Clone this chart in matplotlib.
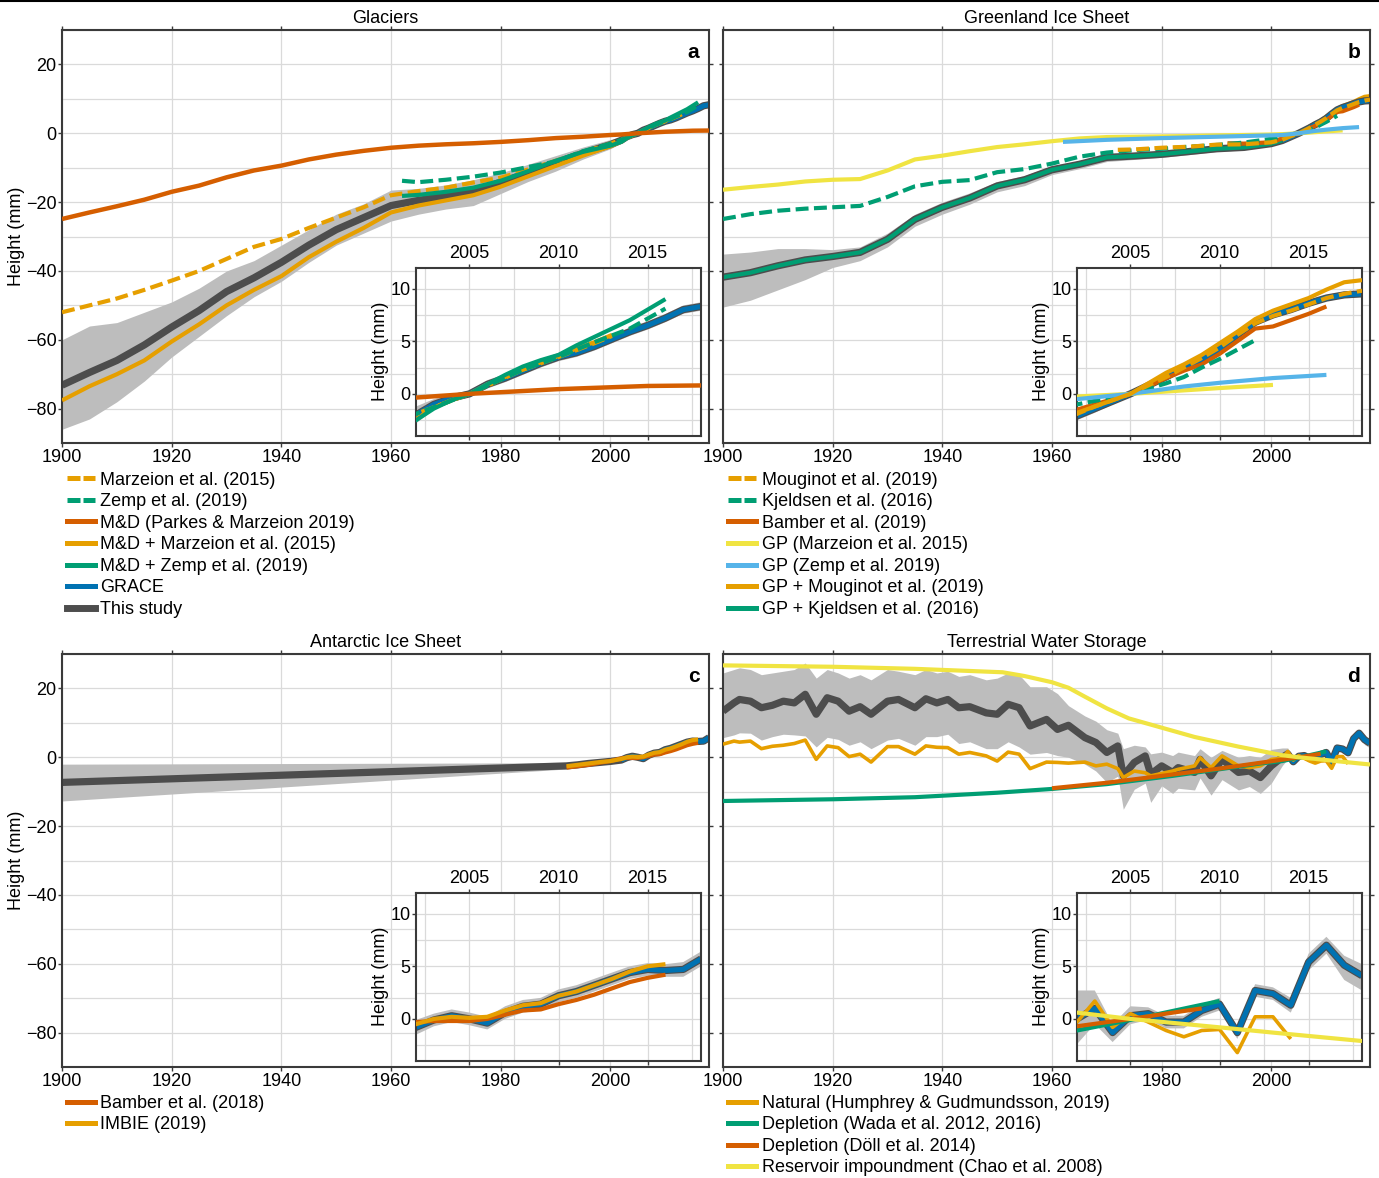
import matplotlib.pyplot as plt
from matplotlib.lines import Line2D
from matplotlib.ticker import MultipleLocator

plt.rcParams['font.family'] = ['Liberation Sans', 'DejaVu Sans']
plt.rcParams['font.size'] = 13

ORANGE = '#E69F00'
TEAL = '#009E73'
RED = '#D55E00'
YELLOW = '#F0E442'
SKY = '#56B4E9'
BLUE = '#0072B2'
DARK = '#4D4D4D'
BAND = '#BDBDBD'
DASH = (0, (3.1, 1.3))
LEG_DASH = (0, (2.6, 0.6))

grace_years = list(range(2002, 2019))
step5 = list(range(1900, 2001, 5))

# ---------------- Glaciers ----------------
gla_years = step5 + grace_years
gla_study = [-73.2, -69.5, -66.0, -61.5, -56.3, -51.5, -46.0, -42.0, -37.5, -32.5, -28.0,
             -24.5, -21.0, -19.5, -18.2, -16.8, -14.2, -11.5, -8.6, -5.8, -3.3,
             -2.0, -1.0, -0.4, 0.0, 0.9, 1.5, 2.2, 2.9, 3.5, 3.9, 4.5, 5.2, 5.9, 6.5, 7.2, 8.0, 8.3]
gla_lo = [-86, -83, -78, -72, -65, -59, -53, -47.5, -43, -37.5, -32.5, -29, -25.5, -23.5,
          -22, -21, -17.5, -14, -11, -7.5, -4.5,
          -2.8, -1.5, -0.8, -0.3, 0.5, 1.1, 1.8, 2.5, 3.1, 3.5, 4.1, 4.8, 5.5, 6.1, 6.8, 7.6, 7.9]
gla_hi = [-60, -56, -55, -52, -49, -45, -40, -37, -32.5, -28, -23.5, -20.5, -16.5, -16,
          -15, -13.5, -11.5, -9, -6.5, -4, -1.8,
          -1.2, -0.5, 0.0, 0.3, 1.3, 1.9, 2.6, 3.3, 3.9, 4.3, 4.9, 5.6, 6.3, 6.9, 7.6, 8.4, 8.7]
gla_grace = [-2.0, -1.0, -0.4, 0.0, 0.9, 1.5, 2.2, 2.9, 3.5, 3.9, 4.5, 5.2, 5.9, 6.5, 7.2, 8.0, 8.3]

gla_md_years = step5 + [2002, 2005, 2010, 2015, 2018]
gla_md = [-24.9, -23.0, -21.2, -19.3, -17.0, -15.2, -12.8, -10.8, -9.4, -7.6, -6.2, -5.1,
          -4.2, -3.6, -3.2, -2.9, -2.5, -2.0, -1.4, -1.0, -0.5, -0.35, 0.0, 0.45, 0.75, 0.8]

gla_marz_years = step5 + [2002, 2005, 2008, 2010, 2012, 2013]
gla_marz = [-52, -50, -48, -45.5, -42.8, -40, -36.5, -33, -30.7, -27.5, -24.5, -21.5, -18,
            -16.8, -15.8, -14.3, -12.9, -10.5, -8, -5.5, -3.0, -1.9, 0.0, 2.3, 3.5, 4.8, 5.5]

gla_md_marz_years = step5 + list(range(2002, 2014))
gla_md_marz = [-77.6, -73.5, -70, -66, -60.5, -55.5, -50, -45.5, -41.5, -36, -31.5, -27.5,
               -23, -21, -19.5, -18, -15.5, -12.5, -9.5, -6.5, -3.8,
               -2.4, -1.3, -0.6, 0.0, 0.9, 1.6, 2.3, 3.0, 3.6, 4.3, 4.9, 5.6]

gla_zemp_years = [1962, 1965, 1970, 1975, 1980, 1985, 1990, 1995, 2000, 2002, 2005, 2008,
                  2010, 2012, 2014, 2016]
gla_zemp = [-13.8, -14.2, -13.5, -12.6, -11.4, -9.8, -8.2, -5.2, -3.0, -1.9, 0.0, 2.3,
            3.5, 4.9, 6.2, 8.1]

gla_md_zemp_years = [1962, 1965, 1970, 1975, 1980, 1985, 1990, 1995, 2000] + list(range(2002, 2017))
gla_md_zemp = [-18.2, -17.9, -17.0, -15.8, -13.8, -11.0, -8.0, -5.4, -3.6,
               -2.5, -1.4, -0.6, 0.0, 0.9, 1.8, 2.6, 3.2, 3.7, 4.6, 5.4, 6.2, 7.0, 8.0, 9.0]

# ---------------- Greenland ----------------
gre_years = step5 + grace_years
gre_study = [-41.8, -40.5, -38.5, -36.8, -35.8, -34.6, -30.8, -25.0, -21.5, -18.8, -15.3,
             -13.5, -10.6, -9.0, -7.0, -6.6, -6.1, -5.3, -4.5, -4.1, -3.0,
             -2.1, -1.4, -0.7, 0.0, 0.8, 1.6, 2.5, 3.3, 4.3, 5.6, 6.8, 7.5, 8.0, 8.6, 9.1, 9.4, 9.5]
gre_lo = [-50.5, -48.5, -45.5, -42.5, -39.0, -37.0, -33.0, -27.0, -23.5, -20.6, -17.0,
          -15.2, -12.0, -10.3, -8.2, -7.6, -7.0, -6.2, -5.3, -4.8, -3.7,
          -2.5, -1.8, -1.0, -0.3, 0.5, 1.3, 2.2, 3.0, 4.0, 5.3, 6.5, 7.2, 7.7, 8.3, 8.8, 9.1, 9.2]
gre_hi = [-35.1, -34.5, -33.5, -33.5, -33.8, -33.0, -29.0, -23.5, -20.0, -17.3, -14.0,
          -12.3, -9.4, -8.0, -6.1, -5.7, -5.2, -4.5, -3.8, -3.4, -2.4,
          -1.7, -1.0, -0.4, 0.3, 1.1, 1.9, 2.8, 3.6, 4.6, 5.9, 7.1, 7.8, 8.3, 8.9, 9.4, 9.7, 9.8]
gre_grace = [-2.1, -1.4, -0.7, 0.0, 0.8, 1.6, 2.5, 3.3, 4.3, 5.6, 6.8, 7.5, 8.0, 8.6, 9.1, 9.4, 9.5]

gre_gpk_years = step5 + [2002]
gre_gpk = [-41.8, -40.5, -38.5, -36.8, -35.8, -34.6, -30.8, -25.0, -21.5, -18.8, -15.3,
           -13.5, -10.6, -9.0, -7.0, -6.6, -6.1, -5.3, -4.5, -4.1, -3.0, -2.1]

gre_kjel_years = step5 + [2002, 2005, 2007, 2008, 2009, 2010, 2011, 2012]
gre_kjel = [-24.9, -23.5, -22.5, -21.9, -21.5, -21.1, -18.5, -15.4, -14.1, -13.6, -11.3,
            -10.4, -8.8, -6.8, -5.6, -4.9, -4.5, -3.9, -3.4, -2.7, -1.6,
            -1.0, 0.0, 1.0, 1.6, 2.5, 3.3, 4.2, 5.1]

gre_moug_years = [1972, 1975, 1980, 1985, 1990, 1995, 2000] + grace_years
gre_moug = [-4.8, -4.7, -4.2, -3.9, -3.3, -3.2, -2.6,
            -1.9, -1.2, -0.6, 0.0, 0.8, 1.6, 2.5, 3.4, 4.4, 5.6, 6.7, 7.4, 7.9, 8.5, 9.1, 9.5, 9.8]
gre_gpm = [-6.8, -6.5, -6.0, -5.2, -4.4, -4.0, -2.9,
           -1.8, -1.2, -0.6, 0.0, 1.0, 2.0, 2.8, 3.7, 4.8, 5.9, 7.1, 7.9, 8.5, 9.1, 9.9, 10.6, 10.8]

gre_bamber_years = [1992, 1995, 2000] + list(range(2002, 2017))
gre_bamber = [-2.9, -3.0, -2.6, -1.5, -1.0, -0.5, 0.0, 0.7, 1.5, 2.2, 2.8, 3.8, 5.0, 6.2,
              6.4, 7.0, 7.6, 8.3]

gre_gpmarz_years = step5 + [2002, 2005, 2010, 2013]
gre_gpmarz = [-16.4, -15.6, -14.9, -14.0, -13.5, -13.3, -10.8, -7.6, -6.5, -5.2, -4.0, -3.2,
              -2.3, -1.5, -1.1, -1.0, -0.9, -0.8, -0.6, -0.5, -0.35, -0.25, 0.0, 0.55, 0.85]

gre_gpzemp_years = [1962, 1970, 1980, 1990, 2000, 2002, 2005, 2008, 2010, 2013, 2016]
gre_gpzemp = [-2.5, -1.9, -1.4, -1.0, -0.6, -0.5, 0.0, 0.7, 1.05, 1.5, 1.8]

# ---------------- Antarctica ----------------
ais_years = [1900, 1992, 1994, 1996, 1998, 2000] + grace_years
ais_study = [-7.3, -2.5, -2.2, -1.8, -1.5, -1.2,
             -0.8, -0.1, 0.3, 0.0, -0.4, 0.6, 1.2, 1.4, 2.2, 2.6, 3.2, 3.8, 4.4, 4.7, 4.6, 4.7, 5.7]
ais_lo = [-12.7, -3.4, -3.0, -2.6, -2.2, -1.9,
          -1.5, -0.7, -0.3, -0.6, -1.0, 0.0, 0.6, 0.8, 1.6, 2.0, 2.6, 3.2, 3.8, 4.1, 4.0, 4.0, 5.0]
ais_hi = [-2.0, -1.6, -1.4, -1.0, -0.8, -0.5,
          -0.1, 0.5, 0.9, 0.6, 0.2, 1.2, 1.8, 2.0, 2.8, 3.2, 3.8, 4.4, 5.0, 5.3, 5.2, 5.4, 6.4]
ais_grace = [-0.8, -0.1, 0.3, 0.0, -0.4, 0.6, 1.2, 1.4, 2.2, 2.6, 3.2, 3.8, 4.4, 4.7, 4.6, 4.7, 5.7]

ais_rec_years = [1992, 1994, 1996, 1998, 2000] + list(range(2002, 2017))
ais_imbie = [-2.6, -2.2, -1.8, -1.4, -1.1, -0.5, 0.0, 0.2, 0.1, 0.2, 0.8, 1.3, 1.5, 2.2,
             2.6, 3.2, 3.8, 4.5, 5.0, 5.2]
ais_bamber = [-3.0, -2.6, -2.2, -1.6, -1.1, -0.3, -0.2, -0.2, -0.2, 0.0, 0.4, 0.8, 0.9, 1.4,
              1.8, 2.3, 2.9, 3.5, 3.9, 4.2]

# ---------------- Terrestrial water storage ----------------
tws_main_years = [1900, 1902, 1903, 1905, 1907, 1909, 1911, 1913, 1915, 1917,
                  1919, 1921, 1923, 1925, 1927, 1930, 1932, 1935, 1937, 1939,
                  1941, 1943, 1945, 1948, 1950, 1952, 1954, 1956, 1959, 1961,
                  1963, 1966, 1968, 1970, 1972, 1973, 1975, 1977, 1978, 1980,
                  1982, 1983, 1986, 1987, 1989, 1991, 1994, 1996, 1998, 2000]
tws_years = tws_main_years + grace_years
tws_study = [13.4, 15.8, 16.8, 16.3, 14.4, 15.1, 16.3, 15.8, 18.3, 12.5,
             17.3, 16.3, 13.4, 14.7, 12.5, 16.3, 16.8, 14.4, 17.0, 15.8,
             16.8, 14.4, 14.7, 12.9, 12.5, 15.4, 14.4, 9.1, 11.0, 8.1,
             9.3, 5.7, 4.3, 1.4, 3.3, -5.4, -1.5, 0.4, -4.9, -2.5,
             -4.4, -3.0, -4.4, -0.6, -5.4, -0.6, -4.4, -4.0, -5.9, -2.5,
             0.0, 1.0, -1.3, 0.3, 0.5, -0.3, -0.3, 0.8, 1.4, -1.3, 2.7, 2.4, 1.3, 5.4, 7.0, 5.1, 4.1]
tws_lo = [5.7, 6.5, 7.1, 7.0, 5.0, 6.0, 6.7, 6.5, 6.2, 3.0,
          5.8, 5.2, 3.5, 4.5, 2.5, 5.0, 5.5, 3.5, 6.0, 6.0,
          6.7, 4.0, 4.5, 2.5, 2.5, 4.5, 3.0, 0.9, 1.4, 0.5,
          0.0, -2.0, -4.0, -7.3, -5.5, -15.1, -9.3, -7.5, -13.1, -8.3,
          -10.5, -9.0, -9.5, -6.0, -11.0, -6.5, -9.5, -8.5, -10.5, -7.5,
          -2.4, -0.5, -2.2, -0.5, -0.1, -0.9, -0.9, 0.2, 0.8, -1.9, 2.1, 1.8, 0.6, 4.6, 6.2, 3.7, 2.7]
tws_hi = [24.5, 25.5, 26.0, 25.5, 24.0, 24.5, 25.0, 25.5, 27.4, 23.0,
          25.5, 24.5, 23.0, 24.0, 22.5, 25.5, 25.0, 24.0, 25.5, 24.5,
          25.0, 23.5, 24.0, 22.5, 23.0, 24.5, 24.0, 20.5, 20.5, 18.5,
          15.0, 12.0, 10.5, 8.0, 7.0, 2.5, 3.5, 3.0, 1.0, 1.5,
          0.5, 1.5, 0.5, 2.5, 0.0, 2.0, 0.0, 0.5, 0.0, 2.3,
          2.7, 2.7, -0.5, 1.2, 1.1, 0.3, 0.3, 1.4, 2.0, -0.7, 3.3, 3.0, 2.0, 6.2, 7.8, 6.0, 5.2]
tws_grace = [0.0, 1.0, -1.3, 0.3, 0.5, -0.3, -0.3, 0.8, 1.4, -1.3, 2.7, 2.4, 1.3, 5.4, 7.0, 5.1, 4.1]

tws_nat_years = tws_main_years + list(range(2002, 2015))
tws_nat = [3.8, 4.7, 4.4, 4.7, 2.5, 3.2, 3.5, 4.0, 5.0, -0.6,
           3.3, 2.8, 0.2, 0.9, -1.4, 3.1, 3.1, 0.9, 3.3, 2.9,
           2.8, 0.9, 1.4, 0.4, -1.1, 1.5, 0.9, -3.3, -1.4, -1.5,
           -1.7, -1.4, -2.5, -2.0, -3.3, -5.9, -4.0, -4.5, -5.4, -4.7,
           -4.0, -3.5, -2.5, -0.1, -3.0, 0.4, -2.5, -3.0, -2.5, -0.6,
           -0.3, 1.7, -0.8, 0.5, -0.3, -1.1, -1.7, -1.1, -1.0, -3.2, 0.2, 0.2, -1.9]

tws_wada_years = [1900, 1920, 1935, 1950, 1960, 1970, 1982, 1990, 1998, 2002, 2005, 2010]
tws_wada = [-12.7, -12.2, -11.6, -10.3, -9.2, -7.8, -5.4, -3.6, -1.8, -1.1, -0.1, 1.7]

tws_doll_years = [1960, 1970, 1982, 1990, 1998, 2002, 2005, 2009]
tws_doll = [-9.0, -7.4, -5.0, -3.4, -1.6, -0.7, 0.0, 1.0]

tws_res_years = [1900, 1920, 1935, 1943, 1951, 1955, 1960, 1963, 1966, 1970, 1974, 1980,
                 1986, 1994, 2002, 2005, 2010, 2013, 2018]
tws_res = [26.7, 26.3, 25.7, 25.2, 24.7, 23.6, 21.8, 20.2, 17.6, 14.2, 11.3, 8.6,
           5.9, 3.1, 0.6, 0.0, -0.8, -1.3, -2.1]


fig = plt.figure(figsize=(13.79, 11.78), dpi=100)
fig.add_artist(Line2D([0, 1], [0.9995, 0.9995], color='black', lw=1.5))

SPINE = '#3a3a3a'
GRID = '#dadada'


def make_panel(rect, inset_rect, title, letter, left_labels):
    ax = fig.add_axes(rect)
    ax.set_xlim(1900, 2018)
    ax.set_ylim(-90, 30)
    ax.set_xticks(range(1900, 2001, 20))
    ax.set_yticks(range(-80, 21, 20))
    ax.yaxis.set_minor_locator(MultipleLocator(10))
    ax.grid(True, which='both', color=GRID, lw=0.9)
    ax.set_axisbelow(True)
    ax.tick_params(which='major', direction='out', top=True, right=True, length=3,
                   width=1, color=SPINE, labelleft=left_labels, pad=1)
    ax.tick_params(which='minor', length=0)
    for s in ax.spines.values():
        s.set_color(SPINE)
        s.set_linewidth(1.5)
    if left_labels:
        ax.set_ylabel('Height (mm)')
        ax.yaxis.set_label_coords(-0.058, 0.5)
    ax.set_title(title, pad=5, fontsize=13)
    ax.text(0.985, 0.945, letter, transform=ax.transAxes, ha='right', va='center',
            fontweight='bold', fontsize=15)

    ins = fig.add_axes(inset_rect)
    ins.set_facecolor('white')
    ins.set_xlim(2002, 2018)
    ins.set_ylim(-4, 12)
    ins.set_xticks([2005, 2010, 2015])
    ins.set_yticks([0, 5, 10])
    ins.xaxis.set_minor_locator(MultipleLocator(2.5))
    ins.yaxis.set_minor_locator(MultipleLocator(2.5))
    ins.grid(True, which='both', color=GRID, lw=0.9)
    ins.set_axisbelow(True)
    ins.tick_params(which='major', direction='out', top=True, bottom=True, labeltop=True,
                    labelbottom=False, length=3, width=1, color=SPINE, pad=1)
    ins.tick_params(which='minor', length=0)
    for s in ins.spines.values():
        s.set_color(SPINE)
        s.set_linewidth(1.5)
    ins.set_ylabel('Height (mm)', labelpad=1)
    return [ax, ins]


def line(axs, x, y, color, lw=3, ls='-', z=3):
    for a in axs:
        a.plot(x, y, color=color, lw=lw, ls=ls, zorder=z, solid_capstyle='butt')


def band(axs, x, lo, hi):
    for a in axs:
        a.fill_between(x, lo, hi, color=BAND, lw=0, zorder=1)


W, H = 0.4692, 0.3506
IW, IH = 0.2067, 0.1430

# Panel a
pa = make_panel([0.0450, 0.6239, W, H], [0.3017, 0.6299, IW, IH], 'Glaciers', 'a', True)
band(pa, gla_years, gla_lo, gla_hi)
line(pa, gla_years, gla_study, DARK, lw=5.2, z=2)
line(pa, grace_years, gla_grace, BLUE, lw=3.6, z=2.5)
line(pa, gla_md_marz_years, gla_md_marz, ORANGE, lw=3, z=3)
line(pa, gla_marz_years, gla_marz, ORANGE, lw=3, ls=DASH, z=3.1)
line(pa, gla_zemp_years, gla_zemp, TEAL, lw=3, ls=DASH, z=3.2)
line(pa, gla_md_zemp_years, gla_md_zemp, TEAL, lw=3, z=3.3)
line(pa, gla_md_years, gla_md, RED, lw=3.2, z=3.4)

# Panel b
pb = make_panel([0.5243, 0.6239, W, H], [0.7810, 0.6299, IW, IH], 'Greenland Ice Sheet', 'b', False)
band(pb, gre_years, gre_lo, gre_hi)
line(pb, gre_moug_years, gre_gpm, ORANGE, lw=3, z=1.8)
line(pb, gre_years, gre_study, DARK, lw=5.2, z=2)
line(pb, gre_gpk_years, gre_gpk, TEAL, lw=3, z=2.2)
line(pb, grace_years, gre_grace, BLUE, lw=3.6, z=2.5)
line(pb, gre_bamber_years, gre_bamber, RED, lw=3, z=3)
line(pb, gre_kjel_years, gre_kjel, TEAL, lw=3, ls=DASH, z=3.1)
line(pb, gre_moug_years, gre_moug, ORANGE, lw=3, ls=DASH, z=3.2)
line(pb, gre_gpmarz_years, gre_gpmarz, YELLOW, lw=3, z=3.3)
line(pb, gre_gpzemp_years, gre_gpzemp, SKY, lw=3, z=3.4)
pb[1].lines[0].set_zorder(3.5)

# Panel c
pc = make_panel([0.0450, 0.0942, W, H], [0.3017, 0.0993, IW, IH], 'Antarctic Ice Sheet', 'c', True)
band(pc, ais_years, ais_lo, ais_hi)
line(pc, ais_years, ais_study, DARK, lw=5.2, z=2)
line(pc, grace_years, ais_grace, BLUE, lw=3.6, z=2.5)
line(pc, ais_rec_years, ais_bamber, RED, lw=3, z=3)
line(pc, ais_rec_years, ais_imbie, ORANGE, lw=3, z=3.1)

# Panel d
pd_ = make_panel([0.5243, 0.0942, W, H], [0.7810, 0.0993, IW, IH], 'Terrestrial Water Storage', 'd', False)
band(pd_, tws_years, tws_lo, tws_hi)
line(pd_, tws_years, tws_study, DARK, lw=5.2, z=2)
line(pd_, grace_years, tws_grace, BLUE, lw=3.6, z=2.5)
line(pd_, tws_nat_years, tws_nat, ORANGE, lw=2.6, z=3)
line(pd_, tws_wada_years, tws_wada, TEAL, lw=3, z=3.1)
line(pd_, tws_doll_years, tws_doll, RED, lw=3, z=3.2)
line(pd_, tws_res_years, tws_res, YELLOW, lw=3, z=3.3)


def legend(entries, x, y):
    handles = [Line2D([], [], color=c, lw=5 if lab == 'This study' else 3.6,
                      ls=LEG_DASH if s == 'dash' else '-')
               for lab, c, s in entries]
    fig.legend(handles, [e[0] for e in entries], loc='upper left', bbox_to_anchor=(x, y),
               frameon=False, handlelength=1.55, handletextpad=0.3, labelspacing=0.25,
               borderpad=0, borderaxespad=0, fontsize=13)


legend([('Marzeion et al. (2015)', ORANGE, 'dash'),
        ('Zemp et al. (2019)', TEAL, 'dash'),
        ('M&D (Parkes & Marzeion 2019)', RED, '-'),
        ('M&D + Marzeion et al. (2015)', ORANGE, '-'),
        ('M&D + Zemp et al. (2019)', TEAL, '-'),
        ('GRACE', BLUE, '-'),
        ('This study', DARK, '-')], 0.0486, 0.5995)
legend([('Mouginot et al. (2019)', ORANGE, 'dash'),
        ('Kjeldsen et al. (2016)', TEAL, 'dash'),
        ('Bamber et al. (2019)', RED, '-'),
        ('GP (Marzeion et al. 2015)', YELLOW, '-'),
        ('GP (Zemp et al. 2019)', SKY, '-'),
        ('GP + Mouginot et al. (2019)', ORANGE, '-'),
        ('GP + Kjeldsen et al. (2016)', TEAL, '-')], 0.528, 0.5995)
legend([('Bamber et al. (2018)', RED, '-'),
        ('IMBIE (2019)', ORANGE, '-')], 0.0486, 0.0705)
legend([('Natural (Humphrey & Gudmundsson, 2019)', ORANGE, '-'),
        ('Depletion (Wada et al. 2012, 2016)', TEAL, '-'),
        ('Depletion (Döll et al. 2014)', RED, '-'),
        ('Reservoir impoundment (Chao et al. 2008)', YELLOW, '-')], 0.528, 0.0705)

fig.savefig('out.png', dpi=100)
